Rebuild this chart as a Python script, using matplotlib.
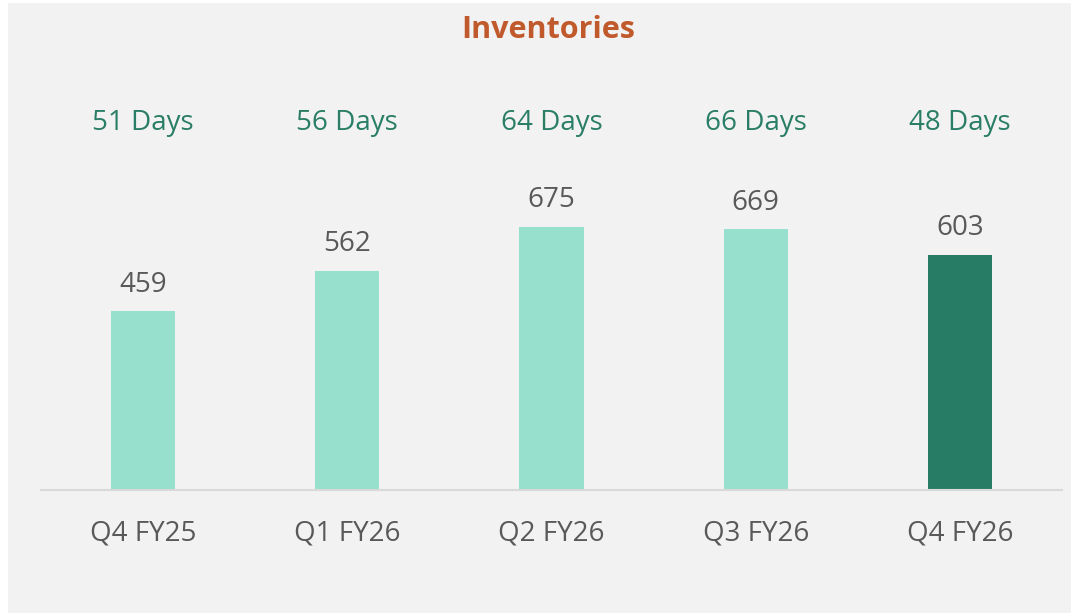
import matplotlib
matplotlib.use("Agg")
import matplotlib.pyplot as plt
from matplotlib.patches import Rectangle

# Inventories by quarter
quarters = ["Q4 FY25", "Q1 FY26", "Q2 FY26", "Q3 FY26", "Q4 FY26"]
inventory = [459, 562, 675, 669, 603]
days = ["51 Days", "56 Days", "64 Days", "66 Days", "48 Days"]

light = "#96E0CD"
dark = "#267C64"
colors = [light, light, light, light, dark]

plt.rcParams["font.family"] = ["Open Sans", "DejaVu Sans"]

W, H = 1071, 613
fig = plt.figure(figsize=(W / 100, H / 100), dpi=100, facecolor="white")
# grey panel behind the chart
fig.patches.append(Rectangle((8 / W, 0), 1 - 8 / W, 1 - 3 / H,
                             transform=fig.transFigure, facecolor="#F2F2F2",
                             edgecolor="none", zorder=-5))

ax = fig.add_axes([41 / W, (H - 490) / H, (1062 - 41) / W, 390 / H])
ax.set_facecolor("none")
ax.set_zorder(2)

x = range(len(quarters))
bars = ax.bar(x, inventory, width=0.315, color=colors, zorder=2)
ax.set_xlim(-0.5, len(quarters) - 0.5)
ax.set_ylim(0, 1000)

for b, v in zip(bars, inventory):
    ax.annotate(str(v), (b.get_x() + b.get_width() / 2, v), xytext=(0, 14),
                textcoords="offset points", ha="center", va="baseline",
                fontsize=20, color="#595959")

for i, d in enumerate(days):
    ax.text(i, 0.94, d, transform=ax.get_xaxis_transform(), ha="center",
            va="center", fontsize=20, color="#2A7E66")

ax.set_xticks(list(x))
ax.set_xticklabels(quarters, fontsize=20, color="#595959")
ax.tick_params(axis="x", length=0, pad=21)
ax.set_yticks([])
for s in ["top", "right", "left"]:
    ax.spines[s].set_visible(False)
ax.spines["bottom"].set_color("#D9D9D9")
ax.spines["bottom"].set_linewidth(1.5)

fig.text(548 / W, 1 - 30 / H, "Inventories", ha="center", va="center",
         fontsize=22, fontweight="bold", color="#C0592B")

fig.savefig("out.png", dpi=100, facecolor=fig.get_facecolor())
